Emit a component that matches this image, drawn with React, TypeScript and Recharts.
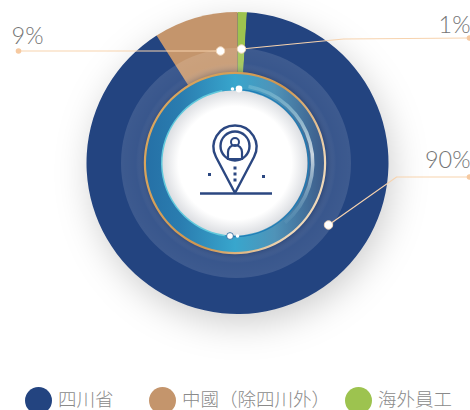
import React from 'react';
import { Pie, PieChart, Cell, Legend } from 'recharts';

const categories = ['海外員工', '四川省', '中國（除四川外）'];
const shares = [1, 90, 9];
const colors = ['#9dc34f', '#234480', '#c4956c'];
const legendOrder = [1, 2, 0];
const legendLeft = [25, 149, 345];

const sliceData = categories.map((name, i) => ({ name, value: shares[i] }));
const whole = [{ name: 'whole', value: 1 }];

const CX = 237.5;
const CY = 163;
const INNER_CX = 235;

// leader lines, offsets from the pie centre
const leaders = [
  { points: [[4, -114], [106, -124], [232, -125]], end: [232, -125], text: { x: 233, y: -130, anchor: 'end' } },
  { points: [[91, 62], [159, 14], [232, 14]], end: [232, 14], text: { x: 233, y: 5, anchor: 'end' } },
  { points: [[-17, -112], [-219, -112]], end: [-219, -112], text: { x: -226, y: -119, anchor: 'start' } },
];

const renderLeader = (props: any) => {
  const { cx, cy, index } = props;
  const l = leaders[index];
  const pts = l.points.map(([x, y]) => `${cx + x},${cy + y}`).join(' ');
  return (
    <g key={index}>
      <polyline points={pts} fill="none" stroke="#f7d3ae" strokeWidth={1.2} />
      <circle cx={cx + l.end[0]} cy={cy + l.end[1]} r={2.8} fill="#f6c9a0" />
      <circle cx={cx + l.points[0][0]} cy={cy + l.points[0][1]} r={4.2} fill="#fff" stroke="#f3d9bd" strokeWidth={1} />
      <text
        x={cx + l.text.x}
        y={cy + l.text.y}
        textAnchor={l.text.anchor as any}
        fontFamily="Lato, sans-serif"
        fontWeight={300}
        fontSize={23.5}
        fill="#747474"
      >
        {shares[index]}%
      </text>
    </g>
  );
};

const renderIcon = (props: any) => {
  const { cx, cy } = props;
  const ink = '#2b4781';
  return (
    <g key="icon" transform={`translate(${cx} ${cy})`} fill="none" stroke={ink}>
      <path strokeWidth={2.4} d="M0 30 L-19 -6 A21.5 21.5 0 1 1 19 -6 Z" strokeLinejoin="round" />
      <circle cx={0} cy={-17} r={14.5} strokeWidth={2.4} />
      <circle cx={0} cy={-21} r={4} strokeWidth={2} />
      <path strokeWidth={2.2} d="M-7 -4 V-11 A7 7 0 0 1 7 -11 V-4 Z" />
      <path strokeWidth={2.6} d="M-35 30.5 H37" />
      <g fill={ink} stroke="none">
        <rect x={-1.5} y={3.5} width={3} height={3} />
        <rect x={-1.5} y={9.5} width={3} height={3} />
        <rect x={-1.5} y={15.5} width={3} height={3} />
        <rect x={-27} y={10} width={3} height={3} />
        <rect x={27} y={12} width={3} height={3} />
      </g>
      {/* small beads where the arcs end */}
      <g stroke="none" fill="#fff">
        <circle cx={4} cy={-74} r={3.4} />
        <circle cx={-2.5} cy={-74} r={1.8} />
        <circle cx={2.5} cy={73} r={1.8} />
      </g>
      <circle cx={-5} cy={73} r={3.4} fill="#fff" stroke="#1f5f96" strokeWidth={0.8} />
    </g>
  );
};

const renderLegend = () => (
  <div style={{ position: 'relative', height: 23, width: 470 }}>
    {legendOrder.map((c, i) => (
      <div key={c} style={{ position: 'absolute', left: legendLeft[i], top: 0, display: 'flex', alignItems: 'flex-start', whiteSpace: 'nowrap' }}>
        <span style={{ width: 27, height: 27, borderRadius: '50%', background: colors[c], marginRight: 6 }} />
        <span style={{ fontFamily: 'Lato, "Noto Sans CJK TC", sans-serif', fontWeight: 300, fontSize: 18.5, lineHeight: '19px', marginTop: 3, color: '#8a8a8a' }}>
          {categories[c]}
        </span>
      </div>
    ))}
  </div>
);

const App: React.FC = () => (
  <div style={{ position: 'absolute', left: 0, top: 0, width: 470, height: 410, overflow: 'hidden' }}>
    <PieChart width={470} height={410} margin={{ top: 0, right: 0, bottom: 0, left: 0 }}>
      <defs>
        <filter id="softShadow" x="-40%" y="-40%" width="180%" height="180%">
          <feDropShadow dx={4} dy={10} stdDeviation={18} floodColor="#000" floodOpacity={0.2} />
        </filter>
        <radialGradient id="halo" cx="50%" cy="50%" r="50%">
          <stop offset="0.76" stopColor="#0d2350" stopOpacity={0.4} />
          <stop offset="0.87" stopColor="#ffffff" stopOpacity={0.1} />
          <stop offset="1" stopColor="#ffffff" stopOpacity={0.12} />
        </radialGradient>
        <linearGradient id="edge" x1="0" y1="0" x2="1" y2="0.5">
          <stop offset="0" stopColor="#dcaa62" />
          <stop offset="0.65" stopColor="#cf9650" />
          <stop offset="1" stopColor="#efd8b8" />
        </linearGradient>
        <linearGradient id="band" x1="0" y1="0" x2="1" y2="0">
          <stop offset="0" stopColor="#2570a6" />
          <stop offset="0.2" stopColor="#2a7db0" />
          <stop offset="0.5" stopColor="#38a6cd" />
          <stop offset="0.72" stopColor="#4f93b8" />
          <stop offset="1" stopColor="#3c5a88" />
        </linearGradient>
        <linearGradient id="sheen" x1="0" y1="0" x2="0" y2="1">
          <stop offset="0" stopColor="#8cc8da" stopOpacity={0.4} />
          <stop offset="0.5" stopColor="#cbd6e0" />
          <stop offset="1" stopColor="#6fa6c4" stopOpacity={0.2} />
        </linearGradient>
        <radialGradient id="core" cx="50%" cy="50%" r="50%">
          <stop offset="0.78" stopColor="#ffffff" />
          <stop offset="1" stopColor="#dcdee2" />
        </radialGradient>
      </defs>

      <Pie data={whole} dataKey="value" cx={CX} cy={CY} outerRadius={150} startAngle={90} endAngle={-270} stroke="none" fill="#234480" filter="url(#softShadow)" isAnimationActive={false} />
      <Pie data={sliceData} dataKey="value" nameKey="name" cx={CX} cy={CY} outerRadius={151} startAngle={90} endAngle={-270} stroke="none" isAnimationActive={false}>
        {sliceData.map((d, i) => <Cell key={d.name} fill={colors[i]} />)}
      </Pie>
      <Pie data={whole} dataKey="value" cx={INNER_CX + 1} cy={CY} innerRadius={88} outerRadius={115} startAngle={90} endAngle={-270} stroke="none" fill="url(#halo)" isAnimationActive={false} />
      <Pie data={whole} dataKey="value" cx={INNER_CX} cy={CY} innerRadius={72} outerRadius={90} startAngle={90} endAngle={-270} stroke="none" fill="url(#band)" isAnimationActive={false} />
      <Pie data={whole} dataKey="value" cx={INNER_CX} cy={CY} innerRadius={89} outerRadius={91.2} startAngle={90} endAngle={-270} stroke="none" fill="url(#edge)" isAnimationActive={false} />
      <Pie data={whole} dataKey="value" cx={INNER_CX} cy={CY} innerRadius={76} outerRadius={79.5} startAngle={80} endAngle={-50} stroke="none" fill="url(#sheen)" isAnimationActive={false} />
      <Pie data={whole} dataKey="value" cx={INNER_CX} cy={CY} innerRadius={71} outerRadius={74} startAngle={100} endAngle={262} stroke="none" fill="#62c9dc" isAnimationActive={false} />
      <Pie data={whole} dataKey="value" cx={INNER_CX} cy={CY} innerRadius={73} outerRadius={74.2} startAngle={90} endAngle={-95} stroke="none" fill="#1f7cb6" isAnimationActive={false} />
      <Pie data={whole} dataKey="value" cx={INNER_CX} cy={CY} outerRadius={72.5} startAngle={90} endAngle={-270} stroke="none" fill="url(#core)" labelLine={false} label={renderIcon} isAnimationActive={false} />
      <Pie data={sliceData} dataKey="value" cx={CX} cy={CY} outerRadius={151} startAngle={90} endAngle={-270} stroke="none" fill="none" labelLine={false} label={renderLeader} isAnimationActive={false} />
      <Legend content={renderLegend} verticalAlign="bottom" wrapperStyle={{ left: 0, bottom: 0, width: 470, height: 23 }} />
    </PieChart>
  </div>
);

export default App;
